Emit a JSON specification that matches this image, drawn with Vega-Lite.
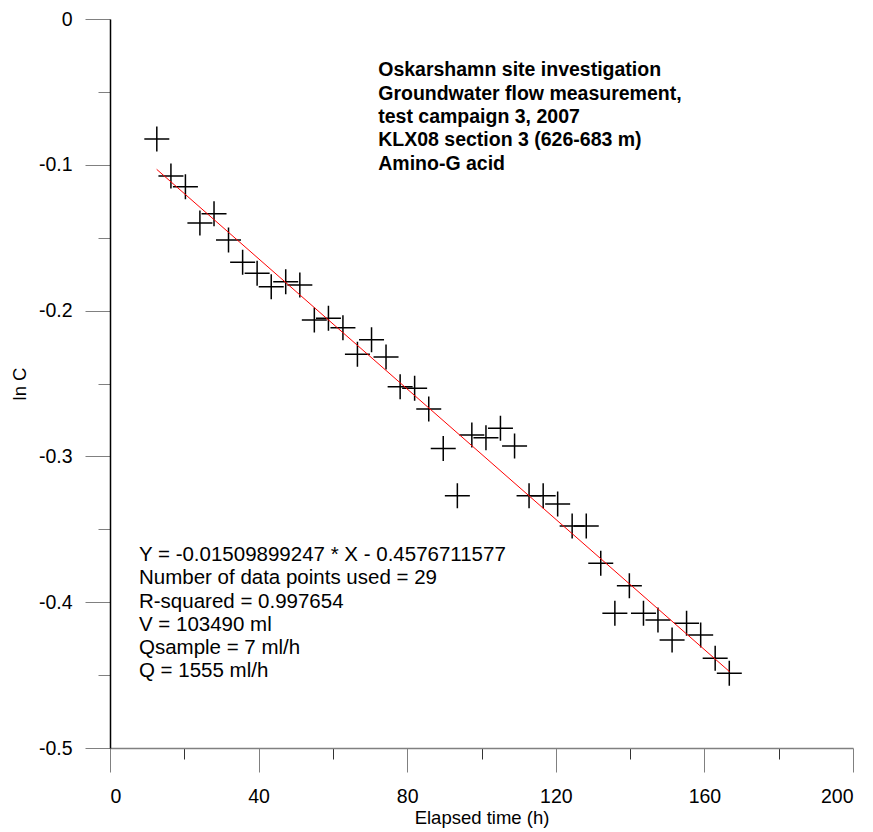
{
  "$schema": "https://vega.github.io/schema/vega-lite/v6.json",
  "autosize": "none",
  "padding": {"left": 110, "top": 19, "right": 20, "bottom": 84},
  "width": 743,
  "height": 729,
  "background": "white",
  "config": {
    "view": {"stroke": null},
    "font": "Liberation Sans",
    "axis": {"labelFont": "Liberation Sans", "titleFont": "Liberation Sans", "labelColor": "black", "titleColor": "black", "grid": false, "titleFontWeight": "normal"}
  },
  "datasets": {
    "pts": [
      {"t": 12.6, "lnC": -0.0823}, {"t": 16.4, "lnC": -0.1077}, {"t": 20.3, "lnC": -0.115}, {"t": 24.2, "lnC": -0.140},
      {"t": 28.0, "lnC": -0.1335}, {"t": 31.9, "lnC": -0.1516}, {"t": 35.7, "lnC": -0.1669}, {"t": 39.6, "lnC": -0.1744},
      {"t": 43.4, "lnC": -0.1836}, {"t": 47.3, "lnC": -0.1802}, {"t": 51.1, "lnC": -0.1824}, {"t": 55.0, "lnC": -0.2064},
      {"t": 58.8, "lnC": -0.2053}, {"t": 62.7, "lnC": -0.2117}, {"t": 66.6, "lnC": -0.2300}, {"t": 70.4, "lnC": -0.2200},
      {"t": 74.3, "lnC": -0.2318}, {"t": 78.1, "lnC": -0.2522}, {"t": 82.0, "lnC": -0.2533}, {"t": 85.8, "lnC": -0.2675},
      {"t": 89.7, "lnC": -0.2945}, {"t": 93.5, "lnC": -0.327}, {"t": 97.4, "lnC": -0.2853}, {"t": 101.2, "lnC": -0.2872},
      {"t": 105.1, "lnC": -0.2807}, {"t": 108.9, "lnC": -0.2929}, {"t": 112.8, "lnC": -0.327}, {"t": 116.6, "lnC": -0.327},
      {"t": 120.5, "lnC": -0.3327}, {"t": 124.4, "lnC": -0.3477}, {"t": 128.2, "lnC": -0.3477}, {"t": 132.1, "lnC": -0.3733},
      {"t": 135.9, "lnC": -0.4076}, {"t": 139.8, "lnC": -0.3887}, {"t": 143.6, "lnC": -0.4076}, {"t": 147.5, "lnC": -0.4122},
      {"t": 151.3, "lnC": -0.4259}, {"t": 155.2, "lnC": -0.4145}, {"t": 159.0, "lnC": -0.4225}, {"t": 162.9, "lnC": -0.4385},
      {"t": 166.7, "lnC": -0.4488}
    ],
    "fit": [{"t": 12.56, "lnC": -0.1031}, {"t": 166.8, "lnC": -0.4477}],
    "title": [
      {"t": 72.2, "lnC": -0.0350, "txt": "Oskarshamn site investigation"},
      {"t": 72.2, "lnC": -0.0511, "txt": "Groundwater flow measurement,"},
      {"t": 72.2, "lnC": -0.0672, "txt": "test campaign 3, 2007"},
      {"t": 72.2, "lnC": -0.0833, "txt": "KLX08 section 3 (626-683 m)"},
      {"t": 72.2, "lnC": -0.0995, "txt": "Amino-G acid"}
    ],
    "stats": [
      {"t": 7.8, "lnC": -0.3676, "txt": "Y = -0.01509899247 * X - 0.4576711577"},
      {"t": 7.8, "lnC": -0.3834, "txt": "Number of data points used = 29"},
      {"t": 7.8, "lnC": -0.3999, "txt": "R-squared = 0.997654"},
      {"t": 7.8, "lnC": -0.4156, "txt": "V = 103490 ml"},
      {"t": 7.8, "lnC": -0.4314, "txt": "Qsample = 7 ml/h"},
      {"t": 7.8, "lnC": -0.4472, "txt": "Q = 1555 ml/h"}
    ]
  },
  "resolve": {"axis": {"x": "independent", "y": "independent"}},
  "layer": [
    {
      "data": {"name": "fit"},
      "mark": {"type": "point", "opacity": 0},
      "encoding": {
        "x": {"field": "t", "type": "quantitative", "scale": {"domain": [0, 200], "nice": false, "zero": false},
          "axis": {"orient": "bottom", "values": [20, 60, 100, 140, 180], "labels": false, "domain": false, "tickSize": 11, "tickColor": "#333333", "tickWidth": 1, "title": null}},
        "y": {"field": "lnC", "type": "quantitative", "scale": {"domain": [-0.5, 0], "nice": false, "zero": false},
          "axis": {"orient": "left", "values": [-0.05, -0.15, -0.25, -0.35, -0.45], "labels": false, "domain": false, "tickSize": 12, "tickColor": "#808080", "tickWidth": 1, "title": null}}
      }
    },
    {
      "data": {"name": "pts"},
      "mark": {"type": "point", "shape": "M-1,0H1M0,-1V1", "size": 625, "filled": false, "stroke": "black", "strokeWidth": 1.5, "opacity": 1},
      "encoding": {
        "x": {"field": "t", "type": "quantitative",
          "axis": {"orient": "bottom", "values": [0, 40, 80, 120, 160, 200], "tickSize": 24, "tickColor": "#808080", "domainColor": "#808080", "domainWidth": 1.5, "labelFontSize": 19.5, "labelPadding": 15, "title": "Elapsed time (h)", "titleFontSize": 18.5, "titlePadding": 3}},
        "y": {"field": "lnC", "type": "quantitative",
          "axis": {"orient": "left", "values": [0, -0.1, -0.2, -0.3, -0.4, -0.5], "labelExpr": "datum.value == 0 ? '0' : '-' + format(-datum.value, '.1f')", "tickSize": 25, "tickColor": "#808080", "domainColor": "black", "domainWidth": 1.5, "labelFontSize": 19.5, "labelPadding": 13, "title": "ln C", "titleFontSize": 18.5, "titlePadding": 9}}
      }
    },
    {
      "data": {"name": "fit"},
      "mark": {"type": "line", "color": "#ff0000", "strokeWidth": 1},
      "encoding": {
        "x": {"field": "t", "type": "quantitative", "axis": null},
        "y": {"field": "lnC", "type": "quantitative", "axis": null}
      }
    },
    {
      "data": {"name": "title"},
      "mark": {"type": "text", "align": "left", "baseline": "middle", "fontSize": 19.5, "fontWeight": "bold", "font": "Liberation Sans", "color": "black"},
      "encoding": {
        "x": {"field": "t", "type": "quantitative", "axis": null},
        "y": {"field": "lnC", "type": "quantitative", "axis": null},
        "text": {"field": "txt"}
      }
    },
    {
      "data": {"name": "stats"},
      "mark": {"type": "text", "align": "left", "baseline": "middle", "fontSize": 20.5, "font": "Liberation Sans", "color": "black"},
      "encoding": {
        "x": {"field": "t", "type": "quantitative", "axis": null},
        "y": {"field": "lnC", "type": "quantitative", "axis": null},
        "text": {"field": "txt"}
      }
    }
  ]
}
